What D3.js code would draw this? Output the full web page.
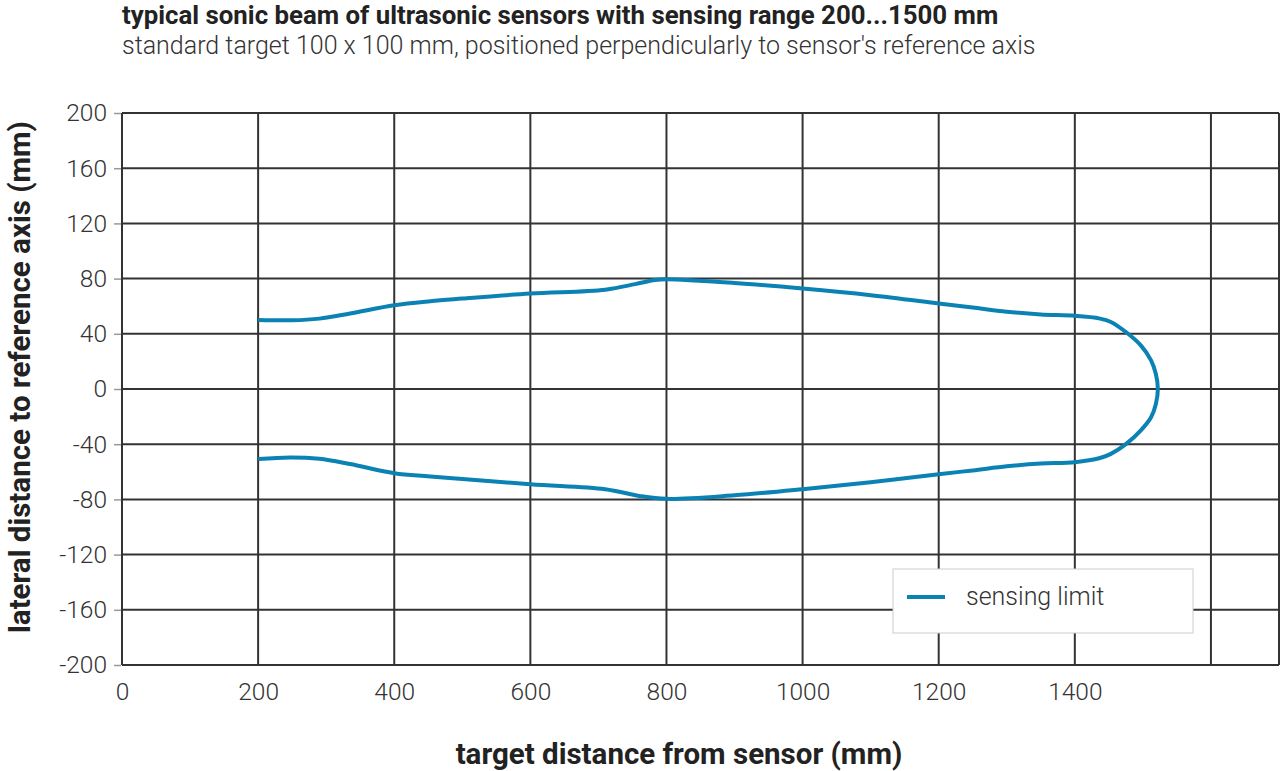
<!DOCTYPE html>
<html>
<head>
<meta charset="utf-8">
<script src="https://cdn.jsdelivr.net/npm/d3@7"></script>
<style>
  body { margin: 0; background: #fff; }
  text { font-family: Roboto, "Liberation Sans", sans-serif; fill: #333; }
  .title { font-weight: 700; font-size: 25.8px; fill: #222; }
  .subtitle { font-weight: 300; font-size: 25px; }
  .tick text { font-weight: 300; font-size: 24.5px; fill: #333; }
  .axis-title { font-weight: 700; font-size: 29.5px; fill: #222; }
  .legend-text { font-weight: 300; font-size: 25px; }
</style>
</head>
<body>
<script>
const chart_width = 1280;
const chart_height = 771;

// tick values
const xTicks = [0, 200, 400, 600, 800, 1000, 1200, 1400, 1600];
const xTickLabels = ['0', '200', '400', '600', '800', '1000', '1200', '1400', ''];
const yTicks = [200, 160, 120, 80, 40, 0, -40, -80, -120, -160, -200];

// sensing limit, upper branch then back along the lower branch (mm)
const limitX = [200, 250, 290, 335, 400, 453, 500, 600, 710, 754, 783, 800, 900, 1000, 1100, 1200, 1250, 1300, 1350, 1400, 1437, 1453, 1475, 1497, 1512, 1519, 1522,
                1519, 1512, 1497, 1475, 1453, 1437, 1400, 1350, 1300, 1250, 1200, 1100, 1000, 900, 800, 760, 710, 600, 453, 400, 335, 290, 247, 200];
const limitY = [50, 49.8, 51, 54.7, 60.7, 63.6, 65.5, 69.2, 72, 76, 79, 79.5, 76.8, 72.8, 68, 62, 59, 56, 54, 53, 51, 48.6, 41.3, 31.6, 20.7, 11, 0,
                -11, -20.5, -30, -40, -47, -50, -53, -54, -56, -59, -61.7, -67.5, -72.6, -77, -79.6, -77.5, -72.6, -69, -63.4, -61, -54.4, -50.6, -49.6, -50.8];

const legendLabel = 'sensing limit';

const margin = {left: 122, right: 1, top: 113, bottom: 106};

const svg = d3.select('body').append('svg')
    .attr('width', chart_width).attr('height', chart_height);

const x = d3.scaleLinear().domain([0, 1700]).range([margin.left, chart_width - margin.right]);
const y = d3.scaleLinear().domain([-200, 200]).range([chart_height - margin.bottom, margin.top]);

svg.append('text').attr('class', 'title')
    .attr('x', 122).attr('y', 24)
    .text('typical sonic beam of ultrasonic sensors with sensing range 200...1500 mm');
svg.append('text').attr('class', 'subtitle')
    .attr('x', 122).attr('y', 54)
    .text("standard target 100 x 100 mm, positioned perpendicularly to sensor's reference axis");

const grid = svg.append('g').attr('stroke', '#333').attr('stroke-width', 2);
grid.selectAll('line.v')
    .data(xTicks.concat([1700]))
    .enter().append('line')
      .attr('class', 'v')
      .attr('x1', d => x(d)).attr('x2', d => x(d))
      .attr('y1', y(200)).attr('y2', y(-200));
grid.selectAll('line.h')
    .data(yTicks)
    .enter().append('line')
      .attr('class', 'h')
      .attr('x1', x(0)).attr('x2', x(1700))
      .attr('y1', d => y(d)).attr('y2', d => y(d));

// y axis: short grey ticks and labels
const yAxis = d3.axisLeft(y).tickValues(yTicks).tickSize(7).tickPadding(7)
    .tickFormat(d => String(d));
const yg = svg.append('g').attr('transform', `translate(${x(0) - 1},0)`).call(yAxis);
yg.select('.domain').remove();
yg.selectAll('.tick line').attr('stroke', '#999').attr('stroke-width', 1.5);

// x axis labels only
const xAxis = d3.axisBottom(x).tickValues(xTicks).tickFormat((d, i) => xTickLabels[i]).tickSize(0).tickPadding(18);
const xg = svg.append('g').attr('transform', `translate(0,${y(-200)})`).call(xAxis);
xg.select('.domain').remove();

svg.append('text').attr('class', 'axis-title')
    .attr('text-anchor', 'middle')
    .attr('x', 679).attr('y', 764)
    .text('target distance from sensor (mm)');
svg.append('text').attr('class', 'axis-title')
    .attr('text-anchor', 'middle')
    .attr('transform', 'translate(30,377) rotate(-90)')
    .text('lateral distance to reference axis (mm)');

// sensing limit curve
const pts = limitX.map((d, i) => [d, limitY[i]]);
const line = d3.line().x(d => x(d[0])).y(d => y(d[1])).curve(d3.curveCatmullRom.alpha(0.5));
svg.append('path')
    .attr('d', line(pts))
    .attr('fill', 'none')
    .attr('stroke', '#0a82b4')
    .attr('stroke-width', 4)
    .attr('stroke-linejoin', 'round');

// legend
const legend = svg.append('g').attr('transform', 'translate(893,569)');
legend.append('rect')
    .attr('width', 300).attr('height', 64)
    .attr('fill', '#fff').attr('stroke', '#ccc').attr('stroke-width', 1);
legend.append('line')
    .attr('x1', 14).attr('x2', 52).attr('y1', 28).attr('y2', 28)
    .attr('stroke', '#0a82b4').attr('stroke-width', 4);
legend.append('text').attr('class', 'legend-text')
    .attr('x', 73).attr('y', 36)
    .text(legendLabel);
</script>
</body>
</html>
